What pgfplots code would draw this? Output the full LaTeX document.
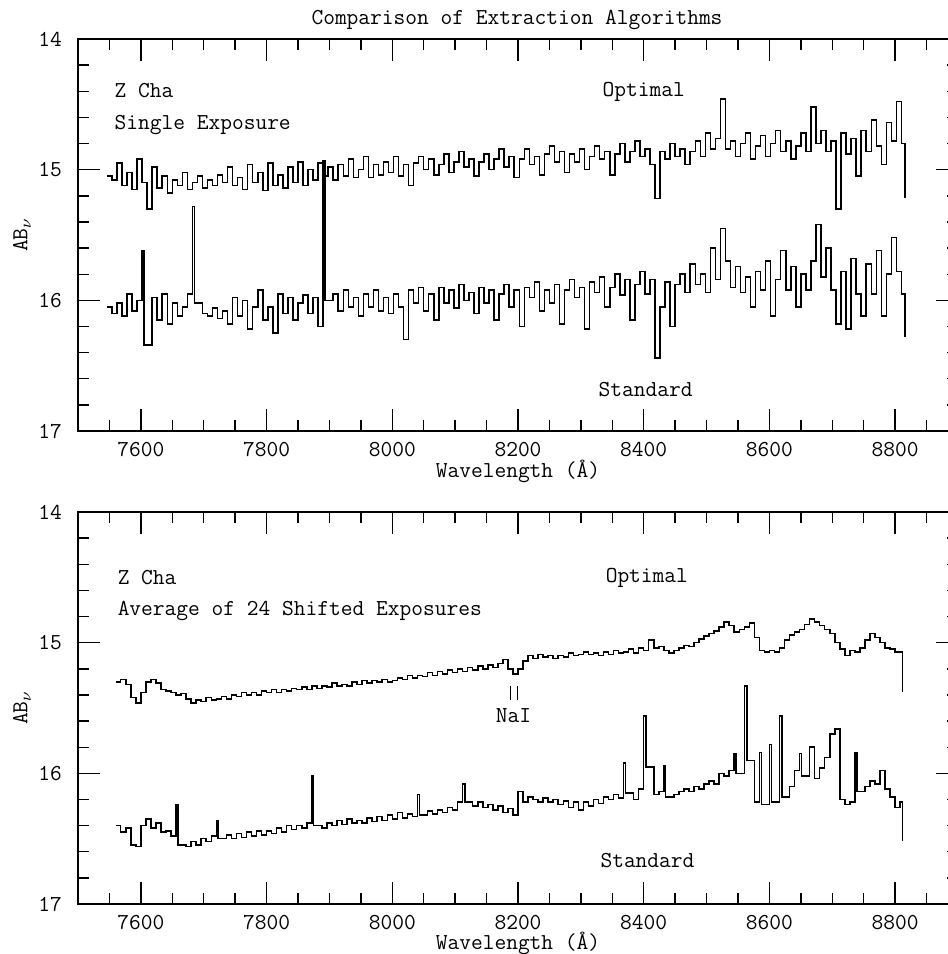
\documentclass[border=0pt]{standalone}
\usepackage{fontspec}
\usepackage{pgfplots}
\usepackage{pgfplotstable}
\pgfplotsset{compat=1.18}

\newcommand{\tf}{\fontsize{11.4}{13}\selectfont\ttfamily}

% top panel: single exposure
\pgfplotstableread{
lam opt std
7546 15.05 16.05
7554 15.08 16.10
7562 14.95 16.02
7570 15.12 16.12
7578 15.02 15.95
7586 15.15 16.08
7594 14.92 16.00
7602 15.10 15.62
7605 15.10 16.34
7610 15.30 16.34
7618 14.98 15.98
7626 15.14 16.15
7634 15.05 15.95
7642 15.18 16.18
7650 15.08 16.02
7658 15.12 16.12
7666 15.02 16.05
7674 15.15 15.95
7682 15.10 15.28
7685 15.10 16.02
7690 15.05 16.02
7698 15.14 16.10
7706 15.08 16.12
7714 15.12 16.06
7722 15.04 16.14
7730 15.10 16.08
7738 14.98 16.18
7746 15.12 15.98
7754 15.06 16.12
7762 15.15 16.00
7770 14.96 16.22
7778 15.10 16.05
7786 15.02 15.92
7794 15.16 16.15
7802 14.95 16.05
7810 15.12 16.25
7818 15.04 15.95
7826 15.14 16.10
7834 14.98 15.98
7842 15.10 16.15
7850 14.94 16.02
7858 15.12 15.96
7866 15.00 16.10
7874 15.08 15.98
7882 14.95 16.20
7890 15.05 14.93
7893 15.05 16.00
7898 14.98 16.00
7906 15.08 15.95
7914 14.96 16.08
7922 15.05 15.92
7930 14.92 16.05
7938 15.06 15.98
7946 15.00 16.12
7954 14.90 15.95
7962 15.06 16.05
7970 14.96 15.92
7978 15.04 16.08
7986 14.94 15.98
7994 15.02 16.10
8002 14.90 15.95
8010 15.05 16.05
8018 14.96 16.30
8026 15.12 15.92
8034 14.95 16.02
8042 14.90 15.90
8050 15.00 16.08
8058 14.92 15.95
8066 15.04 16.15
8074 14.96 15.90
8082 14.88 16.02
8090 15.02 15.92
8098 14.94 16.06
8106 14.86 15.88
8114 14.98 16.00
8122 14.92 15.94
8130 15.05 16.10
8138 14.94 15.90
8146 14.88 16.02
8154 15.00 15.92
8162 14.92 16.15
8170 14.84 15.95
8178 14.98 15.88
8186 14.90 16.05
8194 15.06 15.92
8202 14.92 16.20
8210 14.84 15.90
8218 14.96 15.98
8226 14.90 15.86
8234 15.04 16.08
8242 14.88 15.92
8250 14.82 16.02
8258 14.94 15.88
8266 14.86 16.18
8274 15.02 15.92
8282 14.88 15.84
8290 14.94 15.98
8298 14.84 15.90
8306 15.00 16.22
8314 14.90 15.86
8322 14.82 15.94
8330 14.92 15.82
8338 14.86 16.05
8346 15.04 15.90
8354 14.88 15.80
8362 14.80 15.96
8370 14.94 15.84
8378 14.86 16.15
8386 14.78 15.88
8394 14.90 15.78
8402 14.84 15.95
8410 14.96 15.84
8418 15.22 16.44
8426 14.86 16.05
8434 14.92 15.86
8442 14.80 16.20
8450 14.90 15.88
8458 14.84 15.80
8466 14.96 15.94
8474 14.86 15.72
8482 14.78 15.88
8490 14.90 15.80
8498 14.72 15.94
8506 14.84 15.60
8514 14.76 15.84
8522 14.46 15.45
8530 14.84 15.70
8538 14.78 15.90
8546 14.90 15.74
8554 14.80 15.94
8562 14.72 15.82
8570 14.92 16.05
8578 14.82 15.78
8586 14.74 15.92
8594 14.90 15.70
8602 14.80 16.12
8610 14.70 15.84
8618 14.86 15.62
8626 14.78 15.92
8634 14.92 15.74
8642 14.82 16.05
8650 14.72 15.80
8658 14.86 15.92
8666 14.52 15.70
8674 14.80 15.42
8682 14.70 15.82
8690 14.86 15.60
8698 14.78 15.92
8706 15.30 16.18
8714 14.72 15.78
8722 14.88 16.22
8730 14.76 15.68
8738 15.05 15.95
8746 14.70 16.12
8754 14.86 15.72
8762 14.62 15.95
8770 14.82 15.62
8778 14.96 16.12
8786 14.64 15.80
8794 14.78 15.52
8802 14.48 15.78
8810 14.80 15.95
8816 15.22 16.28
}\topdata

% bottom panel: average of 24 shifted exposures
\pgfplotstableread{
lam opt std
7560 15.30 16.40
7568 15.28 16.45
7576 15.32 16.42
7584 15.42 16.55
7592 15.46 16.56
7600 15.38 16.40
7608 15.30 16.35
7616 15.28 16.42
7624 15.31 16.38
7632 15.36 16.45
7640 15.37 16.44
7648 15.38 16.48
7656 15.40 16.24
7659 15.40 16.55
7664 15.39 16.55
7672 15.43 16.56
7680 15.46 16.52
7688 15.44 16.55
7696 15.45 16.50
7704 15.42 16.52
7712 15.44 16.48
7720 15.43 16.36
7723 15.43 16.50
7728 15.41 16.50
7736 15.43 16.47
7744 15.40 16.50
7752 15.41 16.46
7760 15.38 16.49
7768 15.40 16.45
7776 15.38 16.48
7784 15.40 16.44
7792 15.37 16.47
7800 15.38 16.44
7808 15.36 16.46
7816 15.38 16.42
7824 15.36 16.45
7832 15.37 16.40
7840 15.35 16.43
7848 15.36 16.40
7856 15.34 16.42
7864 15.36 16.38
7872 15.33 16.02
7875 15.33 16.40
7880 15.35 16.40
7888 15.33 16.42
7896 15.34 16.38
7904 15.31 16.40
7912 15.33 16.36
7920 15.32 16.39
7928 15.33 16.35
7936 15.30 16.38
7944 15.32 16.36
7952 15.29 16.38
7960 15.31 16.34
7968 15.29 16.37
7976 15.30 16.33
7984 15.28 16.36
7992 15.30 16.32
8000 15.29 16.35
8008 15.27 16.30
8016 15.28 16.34
8024 15.25 16.31
8032 15.27 16.33
8040 15.25 16.16
8043 15.25 16.32
8048 15.26 16.32
8056 15.23 16.29
8064 15.25 16.31
8072 15.22 16.28
8080 15.24 16.30
8088 15.21 16.26
8096 15.23 16.28
8104 15.20 16.22
8112 15.22 16.08
8116 15.22 16.22
8120 15.19 16.22
8128 15.21 16.25
8136 15.18 16.22
8144 15.20 16.26
8152 15.17 16.24
8160 15.19 16.28
8168 15.16 16.25
8176 15.13 16.30
8184 15.20 16.27
8192 15.24 16.32
8200 15.20 16.14
8208 15.14 16.22
8216 15.10 16.18
8224 15.12 16.20
8232 15.09 16.22
8240 15.11 16.19
8248 15.10 16.22
8256 15.12 16.20
8264 15.10 16.24
8272 15.11 16.21
8280 15.08 16.26
8288 15.10 16.22
8296 15.09 16.28
8304 15.07 16.22
8312 15.09 16.25
8320 15.08 16.20
8328 15.10 16.23
8336 15.07 16.18
8344 15.09 16.20
8352 15.06 16.16
8360 15.08 16.19
8368 15.07 15.92
8371 15.07 16.15
8376 15.05 16.15
8384 15.08 16.20
8392 15.04 16.12
8400 15.06 15.56
8404 15.06 15.95
8408 14.98 15.95
8416 15.04 16.16
8424 15.03 16.14
8432 15.06 15.94
8435 15.06 16.18
8440 15.08 16.18
8448 15.06 16.16
8456 15.04 16.14
8464 15.02 16.12
8472 15.03 16.14
8480 15.00 16.10
8488 14.97 16.12
8496 14.95 16.08
8504 14.93 16.06
8512 14.91 16.08
8520 14.88 16.00
8528 14.84 16.02
8536 14.87 15.98
8544 14.92 15.85
8547 14.92 16.00
8552 14.90 16.00
8560 14.88 15.33
8564 14.88 15.90
8568 14.85 15.90
8576 14.96 16.22
8584 15.06 15.84
8587 15.06 16.24
8592 15.07 16.24
8600 15.06 15.78
8603 15.06 16.22
8608 15.07 16.22
8616 15.04 15.56
8620 15.04 16.18
8624 14.98 16.18
8632 14.94 16.10
8640 14.92 15.98
8648 14.90 15.85
8651 14.90 16.02
8656 14.86 16.02
8664 14.82 15.80
8672 14.84 16.04
8680 14.87 15.96
8688 14.90 15.88
8696 14.93 15.70
8704 15.00 15.66
8712 15.05 16.20
8720 15.10 16.24
8728 15.06 16.22
8736 15.07 15.84
8739 15.07 16.14
8744 15.04 16.14
8752 14.98 16.10
8760 14.93 16.06
8768 14.96 16.08
8776 15.00 15.98
8784 15.04 16.12
8792 15.05 16.18
8800 15.07 16.26
8808 15.07 16.22
8812 15.38 16.52
}\botdata

\pgfplotsset{
  spec/.style={
    scale only axis, width=440pt, height=196pt,
    xmin=7500, xmax=8900, ymin=14, ymax=17, y dir=reverse,
    xtick={7600,7800,...,8800},
    minor xtick={7500,7550,...,8900},
    ytick={14,15,16,17},
    minor ytick={14.2,14.4,14.6,14.8,15.2,15.4,15.6,15.8,16.2,16.4,16.6,16.8},
    tick align=inside,
    major tick length=11pt, minor tick length=5.5pt,
    axis line style={line width=0.8pt},
    every tick/.style={black, line width=0.7pt},
    /pgf/number format/1000 sep={},
    /pgf/number format/assume math mode=true,
    tick label style={font=\tf},
    yticklabel style={anchor=east, xshift=-4.5pt},
    xticklabel style={anchor=base, yshift=-12.5pt, inner sep=0.5pt},
  },
  trace/.style={black, line width=0.75pt, const plot, no markers},
}

\begin{document}
\begin{tikzpicture}[font=\tf]

\begin{axis}[spec, at={(0,0)}, anchor=south west]
\addplot[trace] table[x=lam, y=opt] {\topdata};
\addplot[trace] table[x=lam, y=std] {\topdata};
\node[anchor=base west] at (axis cs:7547,14.449) {Z Cha};
\node[anchor=base west] at (axis cs:7547,14.696) {Single Exposure};
\node[anchor=base] at (axis cs:8400,14.441) {Optimal};
\node[anchor=base] at (axis cs:8403,16.737) {Standard};
\end{axis}

\begin{axis}[spec, at={(0,-236.5pt)}, anchor=south west]
\addplot[trace] table[x=lam, y=opt] {\botdata};
\addplot[trace] table[x=lam, y=std] {\botdata};
\node[anchor=base west] at (axis cs:7552,14.553) {Z Cha};
\node[anchor=base west] at (axis cs:7552,14.793) {Average of 24 Shifted Exposures};
\node[anchor=base] at (axis cs:8405,14.54) {Optimal};
\node[anchor=base] at (axis cs:8406,16.72) {Standard};
\node[anchor=base] at (axis cs:8193,15.614) {NaI};
\draw[line width=0.6pt] (axis cs:8188,15.333) -- (axis cs:8188,15.439);
\draw[line width=0.6pt] (axis cs:8199,15.333) -- (axis cs:8199,15.439);
\end{axis}

% titles and axis labels
\node[anchor=base] at (219.5pt,203pt) {Comparison of Extraction Algorithms};
\node[anchor=base, inner sep=0.5pt] at (220pt,-23pt) {Wavelength (Å)};
\node[anchor=base, inner sep=0.5pt] at (220pt,-259pt) {Wavelength (Å)};
\node[rotate=90] at (-28pt,98pt) {AB$_\nu$};
\node[rotate=90] at (-28pt,-138.5pt) {AB$_\nu$};

\pgfresetboundingbox
\path[use as bounding box] (-39pt,-261.5pt) rectangle (435pt,215.5pt);
\end{tikzpicture}
\end{document}
